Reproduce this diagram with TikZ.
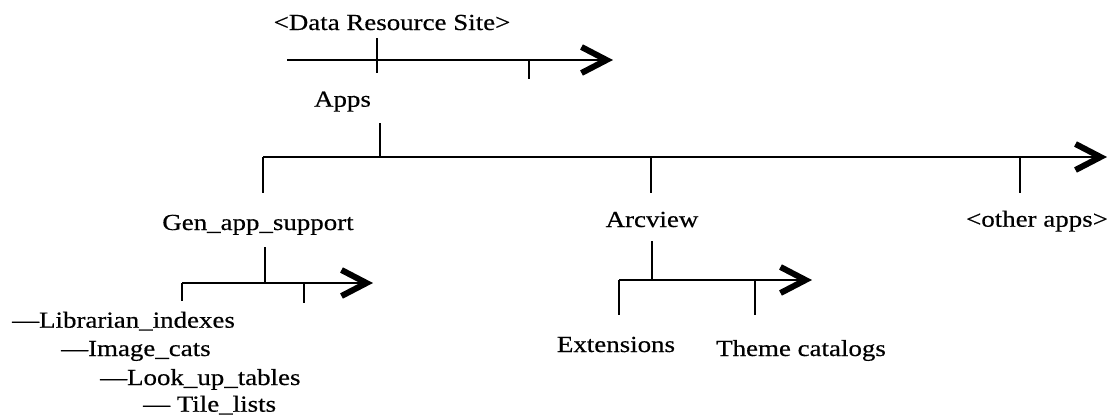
\documentclass[tikz,border=0pt]{standalone}
\usepackage{fontspec}
\setmainfont{Liberation Serif}[FakeStretch=1.17,FakeBold=0.5]
\usetikzlibrary{arrows.meta}

\begin{document}
\begin{tikzpicture}[x=1pt,y=-1pt,>={Straight Barb[length=25pt,width=26pt,line width'=6pt]}]
\tikzset{
 bus/.style={->,line width=1.3pt},
 tick/.style={line width=1.3pt},
 lbl/.style={anchor=base,inner sep=0pt,font=\fontsize{23}{26}\selectfont},
 leaf/.style={lbl,anchor=base west}
}
\useasboundingbox (0,0) rectangle (1112,416);
% site level
\node[lbl] (site) at (392,30) {<Data Resource Site>};
\coordinate (s0) at (287,60);
\coordinate (s1) at (613,60);
\coordinate (sa) at (377,38);
\coordinate (sb) at (377,73);
\coordinate (sc) at (529,60);
\coordinate (sd) at (529,79);
\draw[bus] (s0)--(s1);
\draw[tick] (sa)--(sb);
\draw[tick] (sc)--(sd);
% apps level
\node[lbl] (apps) at (342.5,106.7) {Apps};
\coordinate (a0) at (263,157);
\coordinate (a1) at (1107,157);
\coordinate (aup) at (380,123);
\coordinate (atop) at (380,157);
\coordinate (agen) at (263,193);
\coordinate (aarc) at (651,157);
\coordinate (aarcb) at (651,193);
\coordinate (aoth) at (1020,157);
\coordinate (aothb) at (1020,193);
\draw[bus] (a0)--(a1);
\draw[tick] (aup)--(atop);
\draw[tick] (a0)--(agen);
\draw[tick] (aarc)--(aarcb);
\draw[tick] (aoth)--(aothb);
\node[lbl] (gen) at (258,230) {Gen\_app\_support};
\node[lbl] (arc) at (652,227) {Arcview};
\node[lbl] (oth) at (1037,226.7) {<other apps>};
% gen_app_support
\coordinate (g0) at (182,283);
\coordinate (g1) at (373,283);
\coordinate (gup) at (265,247);
\coordinate (gtop) at (265,283);
\coordinate (gl) at (182,301);
\coordinate (gt) at (304,283);
\coordinate (gtb) at (304,303);
\draw[bus] (g0)--(g1);
\draw[tick] (gup)--(gtop);
\draw[tick] (g0)--(gl);
\draw[tick] (gt)--(gtb);
\node[leaf] (lib) at (12,327.7) {—Librarian\_indexes};
\node[leaf] (img) at (61,356) {—Image\_cats};
\node[leaf] (look) at (100,385) {—Look\_up\_tables};
\node[leaf] (tile) at (143,411.7) {— Tile\_lists};
% arcview
\coordinate (v0) at (619,280);
\coordinate (v1) at (812,280);
\coordinate (vup) at (652,241);
\coordinate (vtop) at (652,280);
\coordinate (vl) at (619,315);
\coordinate (vt) at (755,280);
\coordinate (vtb) at (755,315);
\draw[bus] (v0)--(v1);
\draw[tick] (vup)--(vtop);
\draw[tick] (v0)--(vl);
\draw[tick] (vt)--(vtb);
\node[lbl] (ext) at (616,352) {Extensions};
\node[lbl] (thm) at (801,356) {Theme catalogs};
\end{tikzpicture}
\end{document}
